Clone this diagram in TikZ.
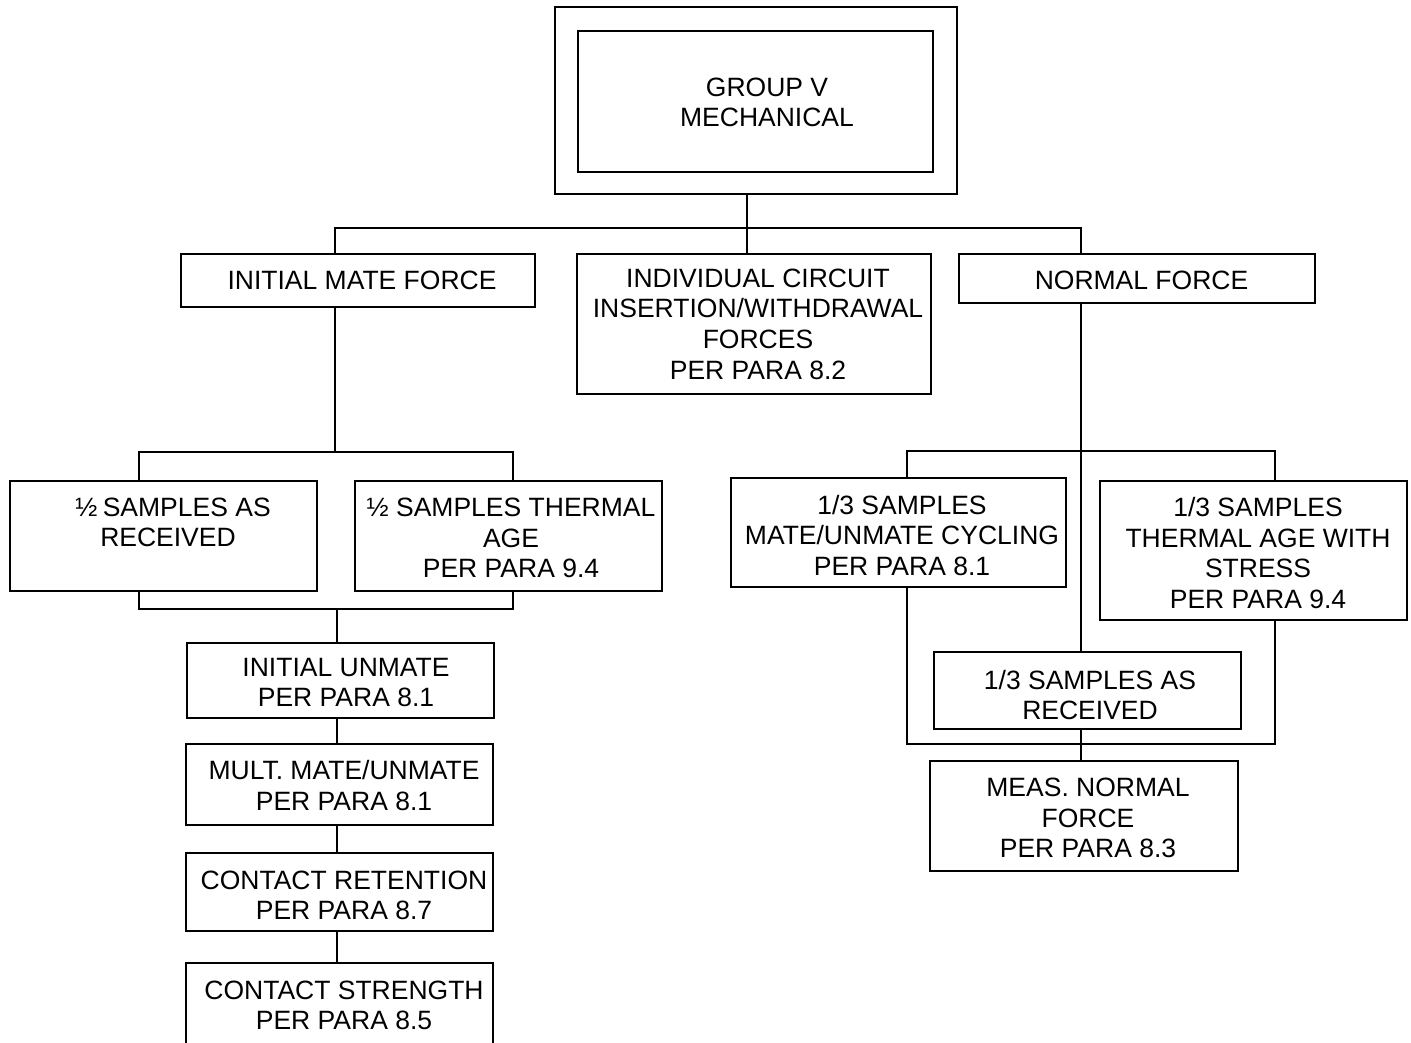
\documentclass[tikz,border=0pt]{standalone}
\usepackage{fontspec}
\setmainfont{Liberation Sans}
\usetikzlibrary{fit}
\begin{document}
\begin{tikzpicture}[x=1pt,y=-1pt,
  box/.style={draw,line width=1.6pt,inner sep=0pt,fit={#1}},
  txt/.style={align=center,inner sep=0pt,font=\fontsize{26.5}{30.6}\selectfont},
  conn/.style={line width=1.6pt,line cap=rect}]
\clip (0,0) rectangle (1411,1042);
% boxes
\node[box={(555,7) (957,194)}] (outer) {};
\node[box={(578,31) (933,172)}] (inner) {};
\node[box={(181,254) (535,307)}] (imf) {};
\node[box={(577,254) (931,394)}] (ic) {};
\node[box={(959,254) (1315,303)}] (nf) {};
\node[box={(10,481) (317,591)}] (hr) {};
\node[box={(355,481) (662,591)}] (ht) {};
\node[box={(187,643) (494,718)}] (iu) {};
\node[box={(186,744) (493,825)}] (mm) {};
\node[box={(186,853) (493,931)}] (cr) {};
\node[box={(186,963) (493,1060)}] (cs) {};
\node[box={(731,478) (1066,587)}] (mc) {};
\node[box={(1100,481) (1407,620)}] (ta) {};
\node[box={(934,652) (1241,729)}] (ar) {};
\node[box={(930,761) (1238,871)}] (mn) {};
% texts
\node[txt] (t-inner) at (767,102.5) {GROUP V\\MECHANICAL};
\node[txt] (t-imf) at (362,280) {INITIAL MATE FORCE};
\node[txt] (t-ic) at (758,324) {INDIVIDUAL CIRCUIT\\INSERTION/WITHDRAWAL\\FORCES\\PER PARA 8.2};
\node[txt] (t-nf) at (1141.5,280) {NORMAL FORCE};
\node[txt] (t-hr) at (168,522.5) {\hspace*{10pt}½\kern-2pt\ SAMPLES AS\\RECEIVED};
\node[txt] (t-ht) at (511,538) {½ SAMPLES THERMAL\\AGE\\PER PARA 9.4};
\node[txt] (t-iu) at (346,682.5) {INITIAL UNMATE\\PER PARA 8.1};
\node[txt] (t-mm) at (344,785.5) {MULT. MATE/UNMATE\\PER PARA 8.1};
\node[txt] (t-cr) at (344,895.5) {CONTACT RETENTION\\PER PARA 8.7};
\node[txt] (t-cs) at (344,1005.5) {CONTACT STRENGTH\\PER PARA 8.5};
\node[txt] (t-mc) at (902,535.5) {1/3 SAMPLES\\MATE/UNMATE CYCLING\\PER PARA 8.1};
\node[txt] (t-ta) at (1258,553) {1/3 SAMPLES\\THERMAL AGE WITH\\STRESS\\PER PARA 9.4};
\node[txt] (t-ar) at (1090,695) {1/3 SAMPLES AS\\RECEIVED};
\node[txt] (t-mn) at (1088,818) {MEAS. NORMAL\\FORCE\\PER PARA 8.3};
% junctions
\coordinate (tL) at (335,228); \coordinate (tM) at (747,228); \coordinate (tR) at (1081,228);
\coordinate (lA) at (335,452); \coordinate (lL) at (139,452); \coordinate (lR) at (513,452);
\coordinate (bL) at (139,609); \coordinate (bR) at (513,609); \coordinate (bM) at (337,609);
\coordinate (rT) at (1081,451); \coordinate (rL) at (907,451); \coordinate (rR) at (1275,451);
\coordinate (rbL) at (907,744); \coordinate (rbR) at (1275,744); \coordinate (rbM) at (1081,744);
% connectors
\draw[conn] (tM |- outer.south) -- (tM |- ic.north);
\draw[conn] (tL |- imf.north) -- (tL) -- (tR) -- (tR |- nf.north);
\draw[conn] (lA |- imf.south) -- (lA);
\draw[conn] (lL |- hr.north) -- (lL) -- (lR) -- (lR |- ht.north);
\draw[conn] (bL |- hr.south) -- (bL) -- (bR) -- (bR |- ht.south);
\draw[conn] (bM) -- (bM |- iu.north);
\draw[conn] (bM |- iu.south) -- (bM |- mm.north);
\draw[conn] (bM |- mm.south) -- (bM |- cr.north);
\draw[conn] (bM |- cr.south) -- (bM |- cs.north);
\draw[conn] (rT |- nf.south) -- (rT |- ar.north);
\draw[conn] (rL |- mc.north) -- (rL) -- (rR) -- (rR |- ta.north);
\draw[conn] (rL |- mc.south) -- (rbL) -- (rbR) -- (rR |- ta.south);
\draw[conn] (rbM |- ar.south) -- (rbM |- mn.north);
\end{tikzpicture}
\end{document}
